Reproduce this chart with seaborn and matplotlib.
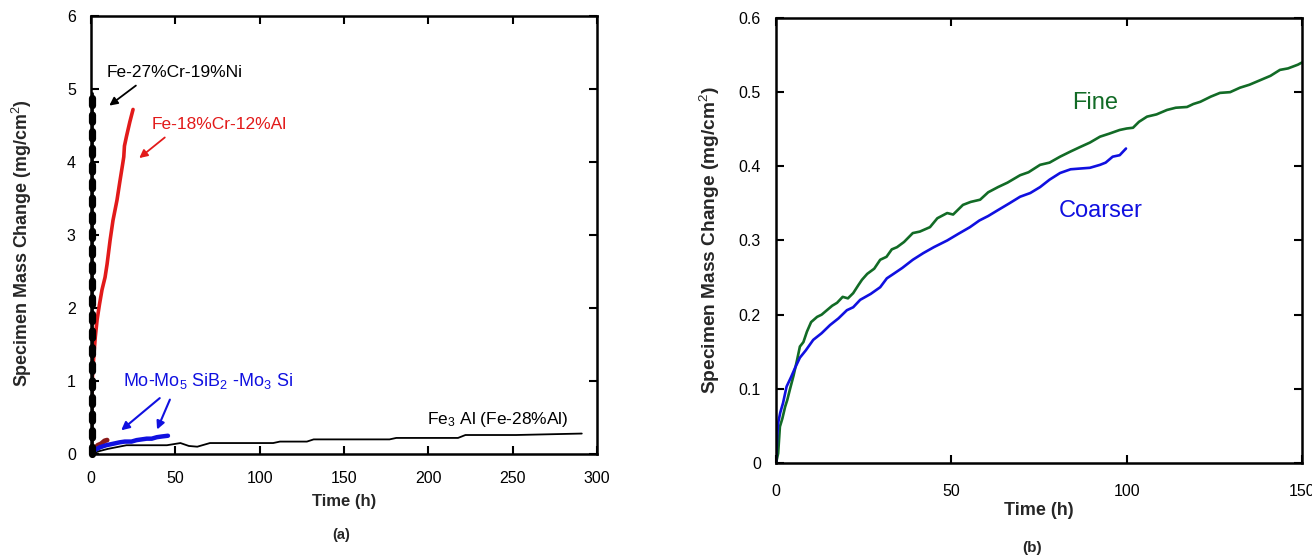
import matplotlib
matplotlib.use("Agg")
import matplotlib.pyplot as plt
import seaborn as sns
import pandas as pd

# ---------------- data: panel (a) ----------------
ni_time = [0.3, 0.3, 0.3, 0.3]
ni_mass = [0.0, 1.5, 3.0, 4.95]

al_time = [0.0, 0.2, 0.5, 0.8, 1.5, 2.5, 3.6, 5.0, 6.5, 8.3, 9.5, 11.3, 13.0, 15.4, 17.0, 18.8, 19.4, 19.8, 21.0, 23.0, 24.9]
al_mass = [0.0, 0.4, 0.8, 1.05, 1.3, 1.6, 1.84, 2.05, 2.25, 2.42, 2.6, 2.93, 3.2, 3.48, 3.72, 3.98, 4.07, 4.22, 4.35, 4.55, 4.72]

fe3al_time = [0, 5, 10, 21, 45, 53, 58, 63, 70.5, 108, 112, 128, 132, 177, 181, 217.6, 222, 252, 291]
fe3al_mass = [0, 0.04, 0.07, 0.12, 0.12, 0.15, 0.11, 0.1, 0.15, 0.15, 0.17, 0.17, 0.2, 0.2, 0.22, 0.22, 0.26, 0.26, 0.28]

mo_time = [0, 2, 5, 9, 13, 17, 20, 24, 27, 30, 33, 36, 39, 42, 45.6]
mo_mass = [0, 0.05, 0.09, 0.12, 0.14, 0.16, 0.17, 0.17, 0.19, 0.2, 0.21, 0.21, 0.23, 0.24, 0.25]

brown_time = [0, 2, 4, 6, 8, 9.5]
brown_mass = [0, 0.07, 0.12, 0.14, 0.18, 0.19]

green_a_time = [0, 3, 6, 8]
green_a_mass = [0, 0.05, 0.09, 0.11]

# ---------------- data: panel (b) ----------------
fine_time = [0, 0.6, 1.1, 1.8, 2.6, 3.2, 4.0, 5.0, 6.0, 6.8, 7.8, 8.8, 10.0, 11.7, 13.0, 14.5, 16.0, 17.4, 19.0, 20.5, 22.0,
             23.5, 24.5, 26.0, 28.0, 29.7, 31.5, 33.0, 34.5, 36.5, 39.0, 41.0, 43.9, 46.0, 48.8, 50.5, 53.3, 55.5, 58.2,
             60.5, 63.3, 66.0, 69.6, 72.0, 75.3, 78.0, 81.0, 84.0, 86.7, 89.5, 92.4, 95.0, 98.0, 100.0, 101.8, 103.5,
             105.8, 108.5, 111.5, 114.0, 117.2, 119.0, 121.0, 124.0, 126.6, 129.5, 132.3, 135.0, 138.0, 141.0, 143.7,
             146.0, 148.8, 150.0]
fine_mass = [0.0, 0.013, 0.049, 0.06, 0.076, 0.085, 0.1, 0.118, 0.139, 0.157, 0.163, 0.177, 0.19, 0.197, 0.2, 0.206, 0.212,
             0.216, 0.224, 0.222, 0.229, 0.24, 0.247, 0.255, 0.262, 0.274, 0.278, 0.288, 0.291, 0.298, 0.31, 0.312, 0.318,
             0.33, 0.337, 0.335, 0.348, 0.352, 0.355, 0.365, 0.372, 0.378, 0.388, 0.392, 0.402, 0.405, 0.413, 0.42, 0.426,
             0.432, 0.44, 0.444, 0.449, 0.451, 0.452, 0.46, 0.467, 0.47, 0.476, 0.479, 0.48, 0.484, 0.487, 0.494, 0.499,
             0.5, 0.506, 0.51, 0.516, 0.522, 0.53, 0.532, 0.537, 0.54]

coarse_time = [0, 0.3, 0.6, 1.2, 2.0, 3.0, 4.2, 5.4, 6.8, 8.5, 10.6, 13.0, 15.4, 17.8, 20.2, 22.0, 24.0, 27.0, 29.7, 31.6,
               33.5, 36.0, 39.0, 42.0, 45.0, 48.8, 52.0, 55.3, 58.0, 60.5, 63.3, 66.5, 69.6, 72.5, 75.3, 78.0, 81.0, 84.0,
               86.7, 89.5, 92.4, 94.0, 96.0, 98.0, 99.8]
coarse_mass = [0.0, 0.035, 0.054, 0.068, 0.081, 0.103, 0.115, 0.128, 0.142, 0.152, 0.166, 0.175, 0.186, 0.195, 0.206, 0.21,
               0.22, 0.228, 0.237, 0.249, 0.255, 0.263, 0.274, 0.283, 0.291, 0.3, 0.309, 0.318, 0.327, 0.333, 0.341, 0.35,
               0.359, 0.364, 0.372, 0.382, 0.391, 0.396, 0.397, 0.398, 0.402, 0.405, 0.413, 0.415, 0.424]

# ---------------- figure ----------------
sns.set_style("ticks")
plt.rcParams['font.family'] = ['Liberation Sans', 'DejaVu Sans']
plt.rcParams['mathtext.fontset'] = 'custom'
plt.rcParams['mathtext.rm'] = 'Liberation Sans'
plt.rcParams['mathtext.it'] = 'Liberation Sans:italic'
plt.rcParams['mathtext.bf'] = 'Liberation Sans:bold'

fig = plt.figure(figsize=(13.12, 5.6), dpi=100)
axa = fig.add_axes([0.0694, 0.1893, 0.3856, 0.7821])
axb = fig.add_axes([0.5915, 0.1732, 0.4009, 0.7947])


def style(ax, xpad):
    for s in ax.spines.values():
        s.set_linewidth(1.8)
        s.set_color('black')
    ax.tick_params(direction='in', length=6, width=1.5, top=True, right=True,
                   labelsize=11.5, colors='black', pad=11)
    ax.tick_params(axis='x', pad=xpad)


def line(ax, t, m, **kw):
    df = pd.DataFrame({'t': t, 'm': m})
    sns.lineplot(data=df, x='t', y='m', ax=ax, sort=False, estimator=None, **kw)


# panel (a)
line(axa, fe3al_time, fe3al_mass, color='black', lw=1.3)
line(axa, green_a_time, green_a_mass, color='#1a7a2a', lw=2)
line(axa, brown_time, brown_mass, color='#8b1a1a', lw=3.5, solid_capstyle='round')
line(axa, mo_time, mo_mass, color='#1010e0', lw=3.2, solid_capstyle='round')
line(axa, al_time, al_mass, color='#e21a1a', lw=2.6)
line(axa, ni_time, ni_mass, color='black', lw=2.0, clip_on=False, zorder=5)
line(axa, ni_time, ni_mass, color='black', lw=5.2, ls=(0, (1.0, 1.3)), dash_capstyle='round',
     clip_on=False, zorder=5)

axa.set_xlim(0, 300)
axa.set_ylim(0, 6)
axa.set_xticks([0, 50, 100, 150, 200, 250, 300])
axa.set_yticks([0, 1, 2, 3, 4, 5, 6])
style(axa, 12)
axa.set_xlabel('Time (h)', fontsize=12, fontweight='bold', labelpad=6)
axa.set_ylabel('Specimen Mass Change (mg/cm$^2$)', fontsize=12.9, fontweight='bold')
axa.yaxis.set_label_coords(-0.112, 0.482)

axa.text(9.5, 5.23, 'Fe-27%Cr-19%Ni', fontsize=12.5, color='black', va='center', ha='left')
axa.annotate('', xy=(9.5, 4.75), xytext=(27.9, 5.07),
             arrowprops=dict(arrowstyle='-|>', color='black', lw=1.3, mutation_scale=12))
axa.text(36.2, 4.52, 'Fe-18%Cr-12%Al', fontsize=12.5, color='#e21a1a', va='center', ha='left')
axa.annotate('', xy=(27.3, 4.03), xytext=(45, 4.36),
             arrowprops=dict(arrowstyle='-|>', color='#e21a1a', lw=1.3, mutation_scale=12))
axa.text(19, 1.0, 'Mo-Mo$_{5}$ SiB$_{2}$ -Mo$_{3}$ Si', fontsize=13, color='#1010e0', va='center', ha='left')
axa.annotate('', xy=(16.6, 0.3), xytext=(42, 0.79),
             arrowprops=dict(arrowstyle='-|>', color='#1010e0', lw=1.5, mutation_scale=12))
axa.annotate('', xy=(38.5, 0.3), xytext=(47.4, 0.78),
             arrowprops=dict(arrowstyle='-|>', color='#1010e0', lw=1.5, mutation_scale=12))
axa.text(199, 0.47, 'Fe$_{3}$ Al (Fe-28%Al)', fontsize=12.5, color='black', va='center', ha='left')
fig.text(341 / 1312, 1 - 535 / 560, '(a)', fontsize=10.5, fontweight='bold', ha='center', va='center')

# panel (b)
line(axb, fine_time, fine_mass, color='#126b26', lw=1.9)
line(axb, coarse_time, coarse_mass, color='#1010e0', lw=1.9)
axb.set_xlim(0, 150)
axb.set_ylim(0, 0.6)
axb.set_xticks([0, 50, 100, 150])
axb.set_yticks([0, 0.1, 0.2, 0.3, 0.4, 0.5, 0.6])
axb.set_yticklabels(['0', '0.1', '0.2', '0.3', '0.4', '0.5', '0.6'])
style(axb, 15)
axb.set_xlabel('Time (h)', fontsize=13, fontweight='bold', labelpad=2)
axb.set_ylabel('Specimen Mass Change (mg/cm$^2$)', fontsize=13.8, fontweight='bold', labelpad=12)
axb.text(91, 0.485, 'Fine', fontsize=17, color='#126b26', ha='center', va='center')
axb.text(92.7, 0.34, 'Coarser', fontsize=17, color='#1010e0', ha='center', va='center')
fig.text(1032 / 1312, 1 - 548 / 560, '(b)', fontsize=11, fontweight='bold', ha='center', va='center')

fig.savefig('out.png', dpi=100)
